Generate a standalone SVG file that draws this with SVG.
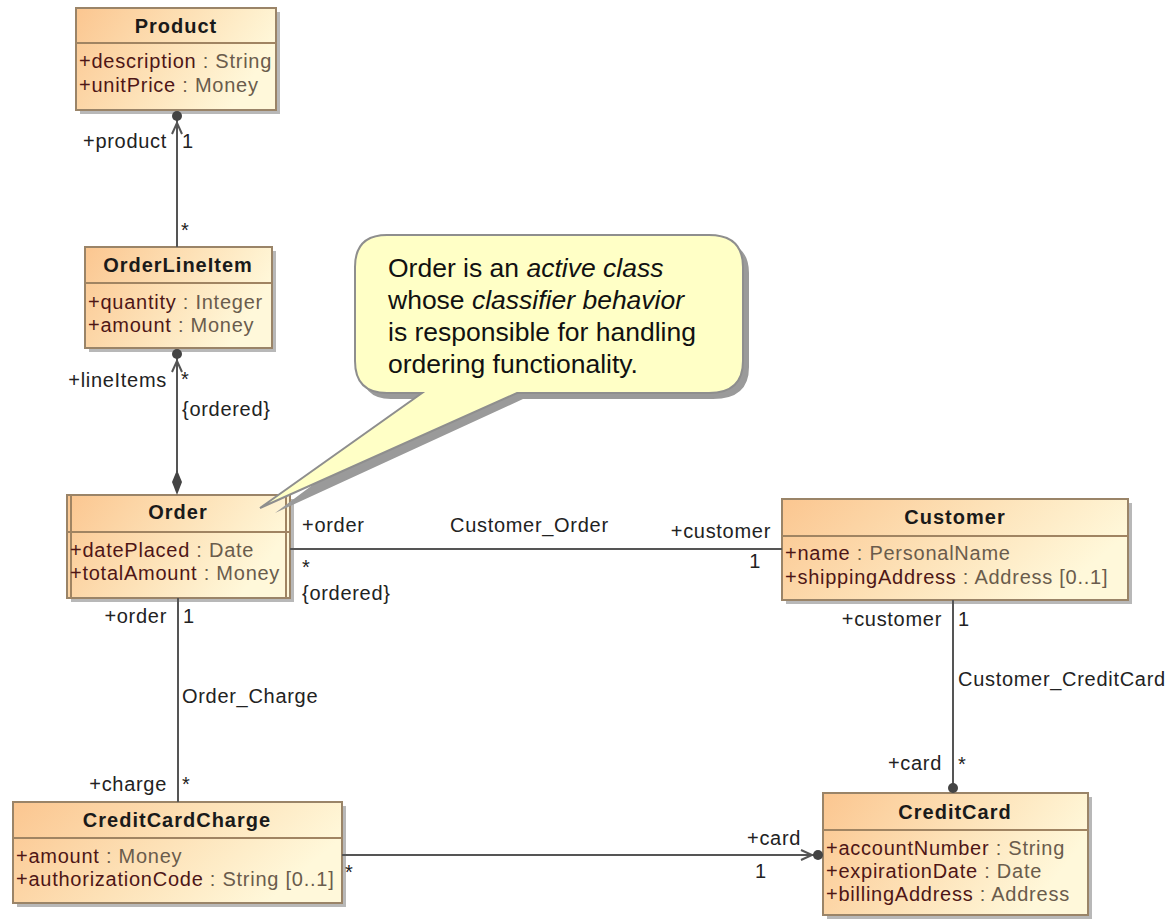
<svg xmlns="http://www.w3.org/2000/svg" width="1167" height="919" viewBox="0 0 1167 919">
  <defs>
    <linearGradient id="cls" x1="0" y1="0" x2="1" y2="0.35">
      <stop offset="0" stop-color="#FBC690"/>
      <stop offset="0.55" stop-color="#FDE2B8"/>
      <stop offset="1" stop-color="#FFF8DA"/>
    </linearGradient>
  </defs>
  <style>
    .box { fill: url(#cls); stroke: #9A8468; stroke-width: 2; }
    .shadow { fill: #B8B8B8; }
    .sep { stroke: #A08462; stroke-width: 2; }
    .hdr { font-family: "Liberation Sans", Arial, sans-serif; font-size: 20px; font-weight: bold; fill: #1a1a1a; text-anchor: middle; letter-spacing: 1px; }
    .att { font-family: "Liberation Sans", Arial, sans-serif; font-size: 20px; letter-spacing: 0.75px; fill: #4E1616; }
    .typ { fill: #6A5C4C; }
    .lbl { font-family: "Liberation Sans", Arial, sans-serif; font-size: 20px; letter-spacing: 0.7px; fill: #222; }
    .end { text-anchor: end; }
    .line { stroke: #555; stroke-width: 2; fill: none; }
    .arrow { stroke: #555; stroke-width: 2; fill: none; }
    .end-dot { fill: #444; }
    .note { font-family: "Liberation Sans", Arial, sans-serif; font-size: 26.5px; fill: #111; }
  </style>

  <rect width="1167" height="919" fill="#FFFFFF"/>

  <!-- Product -->
  <g id="product">
    <rect class="shadow" x="80" y="12" width="200" height="102"/>
    <rect class="box" x="76" y="8" width="200" height="102"/>
    <line class="sep" x1="76" y1="43" x2="276" y2="43"/>
    <text class="hdr" x="176" y="33">Product</text>
    <text class="att" x="79" y="68">+description<tspan class="typ"> : String</tspan></text>
    <text class="att" x="79" y="92">+unitPrice<tspan class="typ"> : Money</tspan></text>
  </g>

  <!-- OrderLineItem -->
  <g id="orderlineitem">
    <rect class="shadow" x="89" y="251" width="187" height="101"/>
    <rect class="box" x="85" y="247" width="187" height="101"/>
    <line class="sep" x1="85" y1="283" x2="272" y2="283"/>
    <text class="hdr" x="178" y="272">OrderLineItem</text>
    <text class="att" x="88" y="309">+quantity<tspan class="typ"> : Integer</tspan></text>
    <text class="att" x="88" y="332">+amount<tspan class="typ"> : Money</tspan></text>
  </g>

  <!-- Order (active class: doubled side borders) -->
  <g id="order">
    <rect class="shadow" x="71" y="499" width="223" height="103"/>
    <rect class="box" x="67" y="495" width="223" height="103"/>
    <line class="sep" x1="71" y1="495" x2="71" y2="598"/>
    <line class="sep" x1="286" y1="495" x2="286" y2="598"/>
    <line class="sep" x1="67" y1="532" x2="290" y2="532"/>
    <text class="hdr" x="178" y="519">Order</text>
    <text class="att" x="70" y="557">+datePlaced<tspan class="typ"> : Date</tspan></text>
    <text class="att" x="70" y="580">+totalAmount<tspan class="typ"> : Money</tspan></text>
  </g>

  <!-- Customer -->
  <g id="customer">
    <rect class="shadow" x="786" y="503" width="346" height="101"/>
    <rect class="box" x="782" y="499" width="346" height="101"/>
    <line class="sep" x1="782" y1="536" x2="1128" y2="536"/>
    <text class="hdr" x="955" y="524">Customer</text>
    <text class="att" x="785" y="560">+name<tspan class="typ"> : PersonalName</tspan></text>
    <text class="att" x="785" y="584">+shippingAddress<tspan class="typ"> : Address [0..1]</tspan></text>
  </g>

  <!-- CreditCardCharge -->
  <g id="creditcardcharge">
    <rect class="shadow" x="17" y="806" width="329" height="101"/>
    <rect class="box" x="13" y="802" width="329" height="101"/>
    <line class="sep" x1="13" y1="838" x2="342" y2="838"/>
    <text class="hdr" x="177" y="827">CreditCardCharge</text>
    <text class="att" x="16" y="863">+amount<tspan class="typ"> : Money</tspan></text>
    <text class="att" x="16" y="886">+authorizationCode<tspan class="typ"> : String [0..1]</tspan></text>
  </g>

  <!-- CreditCard -->
  <g id="creditcard">
    <rect class="shadow" x="827" y="797" width="265" height="122"/>
    <rect class="box" x="823" y="793" width="265" height="122"/>
    <line class="sep" x1="823" y1="830" x2="1088" y2="830"/>
    <text class="hdr" x="955" y="819">CreditCard</text>
    <text class="att" x="826" y="855">+accountNumber<tspan class="typ"> : String</tspan></text>
    <text class="att" x="826" y="878">+expirationDate<tspan class="typ"> : Date</tspan></text>
    <text class="att" x="826" y="901">+billingAddress<tspan class="typ"> : Address</tspan></text>
  </g>

  <!-- connectors -->
  <g id="connectors">
    <!-- Product / OrderLineItem -->
    <line class="line" x1="177" y1="115" x2="177" y2="247"/>
    <circle class="end-dot" cx="177" cy="116" r="5"/>
    <polyline class="arrow" points="172,134 177,123 182,134"/>
    <!-- OrderLineItem / Order (composition) -->
    <line class="line" x1="177" y1="353" x2="177" y2="472"/>
    <circle class="end-dot" cx="177" cy="354" r="5"/>
    <polyline class="arrow" points="172,372 177,361 182,372"/>
    <polygon class="end-dot" points="177,470 182,482 177,495 172,482"/>
    <!-- Customer_Order -->
    <line class="line" x1="290" y1="549" x2="782" y2="549"/>
    <!-- Order_Charge -->
    <line class="line" x1="178" y1="598" x2="178" y2="802"/>
    <!-- Customer_CreditCard -->
    <line class="line" x1="953" y1="600" x2="953" y2="788"/>
    <circle class="end-dot" cx="953" cy="788" r="5"/>
    <!-- CreditCardCharge / CreditCard -->
    <line class="line" x1="342" y1="855" x2="818" y2="855"/>
    <polyline class="arrow" points="801,850 812,855 801,860"/>
    <circle class="end-dot" cx="818" cy="855" r="5"/>

    <!-- role names and multiplicities -->
    <text class="lbl end" x="167" y="148">+product</text>
    <text class="lbl" x="182" y="148">1</text>
    <text class="lbl" x="181" y="237">*</text>
    <text class="lbl end" x="167" y="387">+lineItems</text>
    <text class="lbl" x="181" y="386">*</text>
    <text class="lbl" x="182" y="416">{ordered}</text>

    <text class="lbl" x="302" y="532">+order</text>
    <text class="lbl" x="450" y="532">Customer_Order</text>
    <text class="lbl end" x="771" y="538">+customer</text>
    <text class="lbl" x="302" y="574">*</text>
    <text class="lbl end" x="761" y="568">1</text>
    <text class="lbl" x="302" y="600">{ordered}</text>

    <text class="lbl end" x="167" y="623">+order</text>
    <text class="lbl" x="183" y="623">1</text>
    <text class="lbl" x="182" y="703">Order_Charge</text>
    <text class="lbl end" x="167" y="791">+charge</text>
    <text class="lbl" x="182" y="791">*</text>

    <text class="lbl end" x="942" y="626">+customer</text>
    <text class="lbl" x="958" y="626">1</text>
    <text class="lbl" x="958" y="686">Customer_CreditCard</text>
    <text class="lbl end" x="942" y="770">+card</text>
    <text class="lbl" x="958" y="771">*</text>

    <text class="lbl" x="345" y="879">*</text>
    <text class="lbl" x="747" y="845">+card</text>
    <text class="lbl" x="755" y="878">1</text>
  </g>

  <!-- comment callout -->
  <g id="note">
    <path d="M391,241 H713 Q749,241 749,273 V367 Q749,399 713,399 H523 L275,513 L428,399 H391 Q361,399 361,367 V273 Q361,241 391,241 Z" fill="#9A9A9A"/>
    <path d="M387,235 H709 Q743,235 743,267 V361 Q743,393 709,393 H517 L260,508 L422,393 H387 Q355,393 355,361 V267 Q355,235 387,235 Z" fill="#FFFFC6" stroke="#8E8E8E" stroke-width="2"/>
    <text class="note" x="388" y="277">Order is an <tspan font-style="italic">active class</tspan></text>
    <text class="note" x="388" y="309">whose <tspan font-style="italic">classifier behavior</tspan></text>
    <text class="note" x="388" y="341">is responsible for handling</text>
    <text class="note" x="388" y="373">ordering functionality.</text>
  </g>
</svg>
